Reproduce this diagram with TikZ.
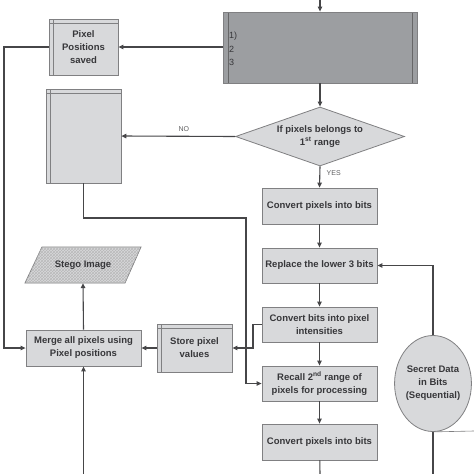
\documentclass[tikz,border=0pt]{standalone}
\usepackage{fontspec}
\setmainfont{Liberation Sans}
\usetikzlibrary{arrows.meta,shapes.geometric,patterns}
\definecolor{boxgray}{RGB}{216,217,219}
\definecolor{darkbox}{RGB}{156,158,161}
\definecolor{bordergray}{RGB}{128,128,130}
\definecolor{linegray}{RGB}{70,70,72}
\definecolor{txt}{RGB}{55,55,58}
\begin{document}
\begin{tikzpicture}[x=1pt,y=-1pt,
  >={Triangle[length=5pt,width=4.5pt]},
  conn/.style={draw=linegray,line width=1.1pt},
  proc/.style={draw=bordergray,fill=boxgray,line width=0.8pt,text=txt,
    font=\bfseries\fontsize{9.5}{13}\selectfont,align=center,inner sep=0pt},
  storebox/.style={proc,path picture={
    \draw[bordergray,line width=0.8pt] ([yshift=-4pt]path picture bounding box.north west) -- ([yshift=-4pt]path picture bounding box.north east);
    \draw[bordergray,line width=0.8pt] ([xshift=4pt]path picture bounding box.north west) -- ([xshift=4pt]path picture bounding box.south west);}},
  predef/.style={proc,fill=darkbox,path picture={
    \draw[bordergray!80!black,line width=0.8pt] ([xshift=5pt]path picture bounding box.north west) -- ([xshift=5pt]path picture bounding box.south west);
    \draw[bordergray!80!black,line width=0.8pt] ([xshift=-5pt]path picture bounding box.north east) -- ([xshift=-5pt]path picture bounding box.south east);}},
  lbl/.style={font=\fontsize{7}{8}\selectfont,text=txt!80}
]
\useasboundingbox[fill=white] (0,0) rectangle (474,474);

% nodes
\node[predef,minimum width=194pt,minimum height=71pt] (top) at (320,47.5) {};
\node[anchor=north west,inner sep=0pt,text=txt,font=\fontsize{9}{13.5}\selectfont,align=left] (list) at (229,32) {1)\\2\\3};
\node[proc,diamond,aspect=2.86,minimum width=169pt,minimum height=59pt] (dia) at (320,136.5) {If pixels belongs to\\1\textsuperscript{st} range};
\node[proc,minimum width=115pt,minimum height=36pt] (c1) at (319.5,206) {Convert pixels into bits};
\node[proc,minimum width=115pt,minimum height=35pt] (rep) at (319.5,265.5) {Replace the lower 3 bits};
\node[proc,minimum width=115pt,minimum height=35pt] (cb) at (319.5,324.5) {Convert bits into pixel\\intensities};
\node[proc,minimum width=115pt,minimum height=35pt] (rec) at (319.5,383.5) {Recall 2\textsuperscript{nd} range of\\pixels for processing};
\node[proc,minimum width=115pt,minimum height=36pt] (c2) at (319.5,442) {Convert pixels into bits};
\node[proc,ellipse,minimum width=72pt,minimum height=96pt] (sec) at (433,383.5) {Secret Data\\in Bits\\(Sequential)};
\node[storebox,minimum width=69pt,minimum height=56pt] (pix) at (83.5,47) {Pixel\\Positions\\saved};
\node[storebox,minimum width=75pt,minimum height=94pt] (blank) at (83.5,136) {};
\node[proc,minimum width=115pt,minimum height=36pt] (mer) at (83.5,348) {Merge all pixels using\\Pixel positions};
\node[storebox,minimum width=75pt,minimum height=48pt] (sto) at (194.5,348) {Store pixel\\values};

% stego parallelogram
\path[fill=boxgray,draw=bordergray,line width=0.8pt,postaction={pattern=crosshatch,pattern color=gray!55}]
  (42,247) -- (141,247) -- (125,283) -- (25,283) -- cycle;
\node[text=txt,font=\bfseries\fontsize{9.5}{12}\selectfont,minimum width=100pt,minimum height=36pt,inner sep=0pt] (stego) at (83,265) {Stego Image};

% coordinates
\coordinate (in) at (320,0);
\coordinate (out) at (320,474);
\coordinate (bot) at (83.5,474);
\coordinate (secout) at (433,474);
\coordinate (edge) at (474,431);

% connectors
\draw[conn,->] (in) -- (top.north);
\draw[conn,->] (top.south) -- (dia.north);
\draw[conn,->] (top.west |- pix.east) -- (pix.east);
\draw[conn,->] (dia.west) -- node[lbl,above,pos=0.45,yshift=1pt]{NO} (blank.east);
\draw[conn,->] (dia.south) -- node[lbl,right,pos=0.3,xshift=3pt]{YES} (c1.north);
\draw[conn,->] (c1) -- (rep);
\draw[conn,->] (rep) -- (cb);
\draw[conn,->] (cb) -- (rec);
\draw[conn,->] (rec) -- (c2);
\draw[conn] (c2) -- (out);
\draw[conn,->] (pix.west) -- (4,47) -- (4,348) -- (mer.west);
\draw[conn,->] (blank.south) -- (83.5,218) -- (246,218) -- (246,383.5) -- (rec.west);
\draw[conn,->] (cb.west) -- (253,324.5) -- (253,348) -- (sto.east);
\draw[conn,->] (sto.west) -- (mer.east);
\draw[conn,->] (mer.north) -- (stego.south);
\draw[conn,->] (bot) -- (mer.south);
\draw[conn,->] (sec.north) -- (433,265.5) -- (rep.east);
\draw[conn] (sec.south) -- (secout);
\draw[bordergray,line width=0.6pt] (sec.south) -- (edge);
\end{tikzpicture}
\end{document}
